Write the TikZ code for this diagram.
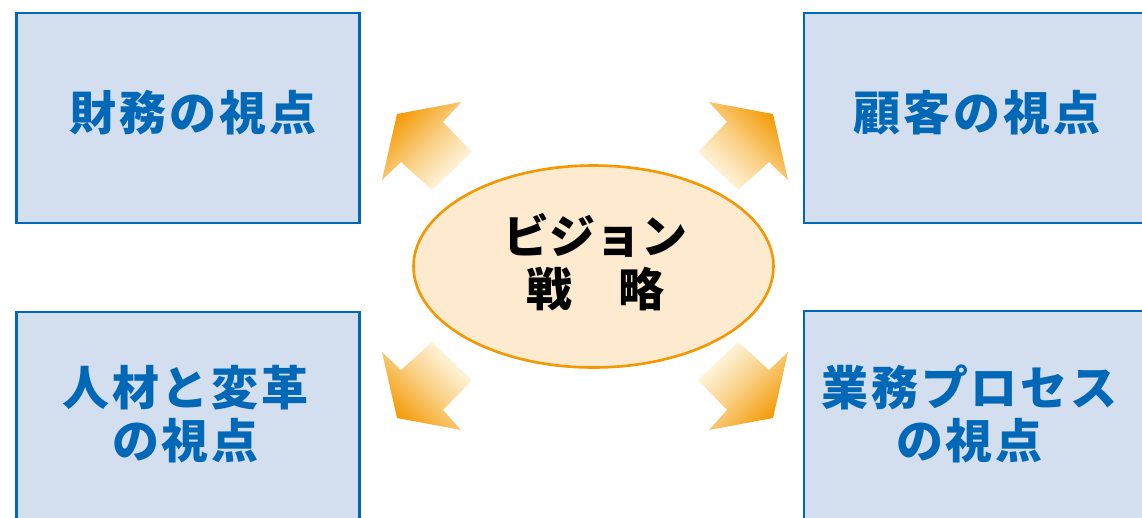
\documentclass[tikz,border=0pt]{standalone}
\usepackage{fontspec}
\usetikzlibrary{shapes.geometric}
\newfontfamily\jp{Noto Sans CJK JP}
\definecolor{boxblue}{HTML}{0068B7}
\definecolor{boxfill}{HTML}{D3DEEF}
\definecolor{orng}{HTML}{F39800}
\definecolor{ellfill}{HTML}{FDEACF}
\definecolor{tailc}{HTML}{FFFCEE}
\begin{document}
\begin{tikzpicture}[x=1pt,y=-1pt,
  persp/.style={draw=boxblue, line width=2.6pt, fill=boxfill, inner sep=0pt,
    minimum width=343pt, minimum height=210pt},
  persptext/.style={inner sep=0pt, text=boxblue, align=center,
    font=\jp\bfseries\fontsize{47}{53}\selectfont\addfontfeature{LetterSpace=6}},
  vision/.style={ellipse, draw=orng, line width=2.6pt, fill=ellfill, inner sep=0pt,
    minimum width=360pt, minimum height=202pt},
  visiontext/.style={inner sep=0pt, align=center,
    font=\jp\bfseries\fontsize{46}{53}\selectfont},
  blockarrow/.style={top color=orng, bottom color=tailc, middle color=orng!45!tailc}]
\useasboundingbox (0,0) rectangle (1142,517);
\clip (0,0) rectangle (1142,517);
\fill[white] (0,0) rectangle (1142,517);

% perspective boxes
\node[persp] (fin) at (188,118) {};
\node[persp] (cus) at (975.5,118) {};
\node[persp] (lrn) at (188,417) {};
\node[persp] (bus) at (975.5,416) {};
\node[persptext] (finT) at (193,113) {財務の視点};
\node[persptext] (cusT) at (977,113) {顧客の視点};
\node[persptext] (lrnT) at (185.5,414) {人材と変革\\の視点};
\node[persptext] (busT) at (969.5,414) {業務プロセス\\の視点};

% centre ellipse
\node[vision] (vis) at (593.5,266.5) {};
\node[visiontext] (visT) at (595.5,262) {ビジョン\\戦　略};

% gradient block arrows
\shade[blockarrow, shading angle=45]
  (397,114) -- (461,102) -- (443,122) -- (472,152) -- (432,190) -- (401,162) -- (382,180) -- cycle;
\shade[blockarrow, shading angle=-45]
  (773,114) -- (709,102) -- (727,122) -- (698,152) -- (738,190) -- (769,162) -- (788,180) -- cycle;
\shade[blockarrow, shading angle=135]
  (397,418) -- (461,430) -- (443,410) -- (472,380) -- (432,342) -- (401,370) -- (382,352) -- cycle;
\shade[blockarrow, shading angle=-135]
  (773,418) -- (709,430) -- (727,410) -- (698,380) -- (738,342) -- (769,370) -- (788,352) -- cycle;
\end{tikzpicture}
\end{document}
